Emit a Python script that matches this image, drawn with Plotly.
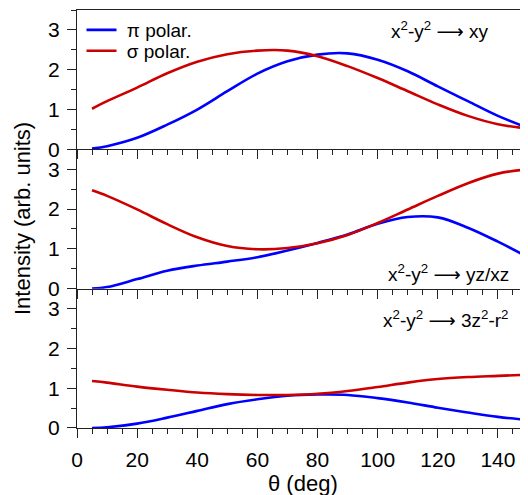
import plotly.graph_objects as go
from plotly.subplots import make_subplots

theta = [5, 10, 20, 30, 40, 50, 60, 70, 80, 90, 100, 110, 120, 130, 140, 150]

# Panel 1: x2-y2 -> xy
xy_pi = [0.02, 0.08, 0.29, 0.62, 1.0, 1.46, 1.90, 2.21, 2.38, 2.41, 2.25, 1.96, 1.58, 1.21, 0.84, 0.54]
xy_sigma = [1.02, 1.21, 1.55, 1.91, 2.20, 2.39, 2.48, 2.48, 2.34, 2.09, 1.79, 1.46, 1.13, 0.84, 0.63, 0.52]

# Panel 2: x2-y2 -> yz/xz
yz_pi = [0.0, 0.04, 0.24, 0.45, 0.58, 0.68, 0.79, 0.96, 1.15, 1.36, 1.63, 1.80, 1.79, 1.53, 1.18, 0.79]
yz_sigma = [2.47, 2.33, 1.99, 1.62, 1.29, 1.07, 0.99, 1.02, 1.14, 1.35, 1.65, 1.99, 2.33, 2.65, 2.89, 3.0]

# Panel 3: x2-y2 -> 3z2-r2
z2_pi = [0.0, 0.02, 0.11, 0.26, 0.43, 0.60, 0.72, 0.81, 0.84, 0.83, 0.75, 0.64, 0.51, 0.39, 0.28, 0.20]
z2_sigma = [1.18, 1.14, 1.04, 0.96, 0.89, 0.85, 0.83, 0.83, 0.86, 0.93, 1.03, 1.14, 1.23, 1.28, 1.31, 1.34]

ARROW = '<span style="font-family:DejaVu Sans">⟶</span>'
panel_labels = ["x<sup>2</sup>-y<sup>2</sup> " + ARROW + " xy",
                "x<sup>2</sup>-y<sup>2</sup> " + ARROW + " yz/xz",
                "x<sup>2</sup>-y<sup>2</sup> " + ARROW + " 3z<sup>2</sup>-r<sup>2</sup>"]
legend_names = ["\u00a0π polar.", "\u00a0σ polar."]

BLUE = "#0000FF"
RED = "#CC0000"
AX = "#222222"
FONT = "Liberation Sans, Arial, sans-serif"

fig = make_subplots(rows=3, cols=1, shared_xaxes=True, vertical_spacing=0)

data = [(xy_pi, xy_sigma), (yz_pi, yz_sigma), (z2_pi, z2_sigma)]
for i, (pi_v, sg_v) in enumerate(data):
    r = i + 1
    fig.add_trace(go.Scatter(x=theta, y=pi_v, mode="lines",
                             line=dict(color=BLUE, width=2.6, shape="spline", smoothing=1.0),
                             name=legend_names[0], showlegend=(i == 0), legend="legend"), row=r, col=1)
    fig.add_trace(go.Scatter(x=theta, y=sg_v, mode="lines",
                             line=dict(color=RED, width=2.6, shape="spline", smoothing=1.0),
                             name=legend_names[1], showlegend=(i == 0), legend="legend2"), row=r, col=1)

for r in range(1, 4):
    fig.update_xaxes(range=[0, 150], dtick=20, tick0=0, ticks="outside", ticklen=9, tickwidth=1.3,
                     tickcolor=AX, showline=True, linecolor=AX, linewidth=1.3,
                     mirror=(r == 1), showgrid=False, zeroline=False, automargin=False,
                     showticklabels=(r == 3), ticklabelstandoff=4,
                     minor=dict(dtick=5, ticks="outside", ticklen=5, tickwidth=1.2, tickcolor=AX),
                     tickfont=dict(size=21, color="black", family=FONT), row=r, col=1)
    fig.update_yaxes(range=[0, 3.5], dtick=1, tick0=0, ticks="outside", ticklen=9, tickwidth=1.3,
                     tickcolor=AX, showline=True, linecolor=AX, linewidth=1.3,
                     showgrid=False, zeroline=False, automargin=False, ticklabelstandoff=3,
                     minor=dict(dtick=0.5, ticks="outside", ticklen=5, tickwidth=1.2, tickcolor=AX),
                     tickfont=dict(size=21, color="black", family=FONT), row=r, col=1)

ann_pos = [(120.4, 3.0, "x", "y"), (123.7, 0.39, "x2", "y2"), (122.7, 2.73, "x3", "y3")]
for (ax, ay, xr, yr), txt in zip(ann_pos, panel_labels):
    fig.add_annotation(x=ax, y=ay, xref=xr, yref=yr, text=txt, showarrow=False,
                       xanchor="center", yanchor="middle",
                       font=dict(size=19, color="black", family=FONT))

fig.add_annotation(x=0, y=0.5, xref="paper", yref="paper", xshift=-55, text="Intensity (arb. units)",
                   textangle=-90, showarrow=False, xanchor="center", yanchor="middle",
                   font=dict(size=22, color="black", family=FONT))
fig.add_annotation(x=0.5, y=0, xref="paper", yref="paper", yshift=-55, text="θ (deg)",
                   showarrow=False, xanchor="center", yanchor="middle",
                   font=dict(size=22, color="black", family=FONT))

leg_common = dict(xanchor="left", yanchor="middle", bgcolor="rgba(0,0,0,0)", borderwidth=0,
                  font=dict(size=19, color="black", family=FONT))

# page body has an 8px default margin; size the figure so the plot fills the window
fig.update_layout(
    width=520, height=487,
    margin=dict(l=69, r=0, t=2, b=67),
    paper_bgcolor="white", plot_bgcolor="white",
    font=dict(family=FONT, color="black"),
    legend=dict(x=0.01, y=0.952, **leg_common),
    legend2=dict(x=0.01, y=0.902, **leg_common),
)

fig.write_html("out.html")
